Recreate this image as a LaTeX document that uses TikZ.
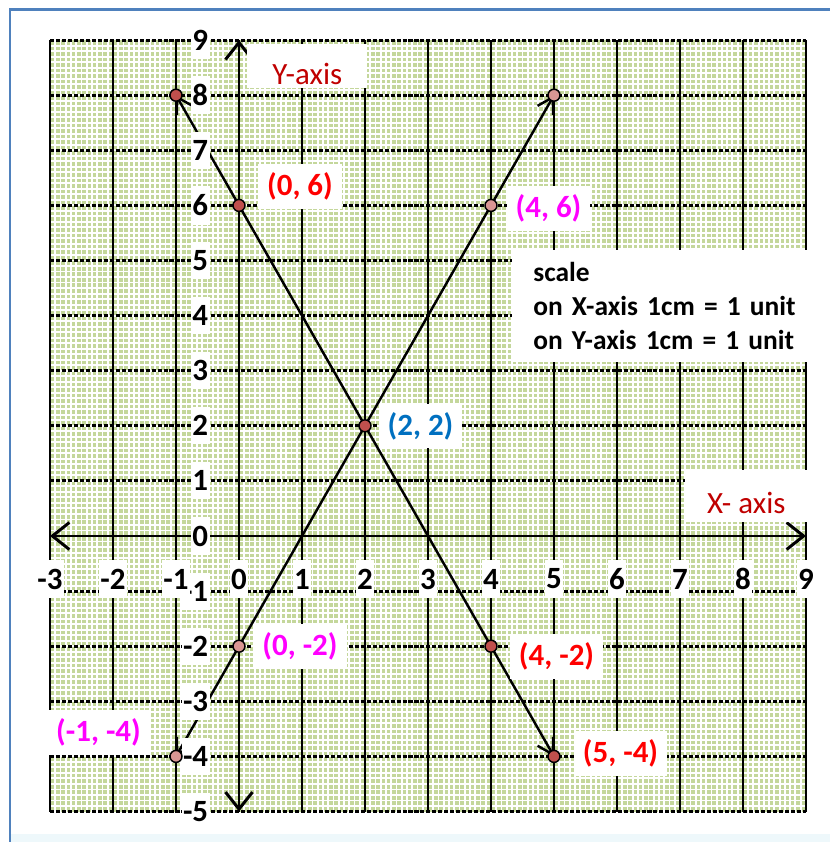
\documentclass[tikz,border=0pt]{standalone}
\usepackage{fontspec}
\setmainfont{Carlito}
\usetikzlibrary{arrows.meta,positioning}
\definecolor{gridgreen}{HTML}{C4D79B}
\definecolor{frameblue}{HTML}{4F81BD}
\definecolor{paleband}{HTML}{EEF8FB}
\definecolor{axisred}{HTML}{C00000}
\definecolor{ptred}{HTML}{FF0000}
\definecolor{ptmagenta}{HTML}{FF00FF}
\definecolor{ptblue}{HTML}{0070C0}
\definecolor{dotdark}{HTML}{C0504D}
\definecolor{dotpink}{HTML}{D99694}

\begin{document}
\begin{tikzpicture}[
  x=1.26cm, y=1.102cm,
  finegrid/.style={
    draw=white,
    line width=1.1pt,
    xstep=0.083333,
    ystep=0.1
  },
  majorcol/.style={
    draw=black,
    line width=1.7pt
  },
  dotrow/.style={
    draw=black,
    line width=1.7pt,
    dash pattern=on 2.3pt off 1.1pt
  },
  axisline/.style={
    line width=1.7pt,
    {Straight Barb[length=3.4mm,width=5.4mm]}-{Straight Barb[length=3.4mm,width=5.4mm]}
  },
  plotline/.style={
    line width=1.4pt,
    {Straight Barb[length=3mm,width=3.6mm]}-{Straight Barb[length=3mm,width=3.6mm]}
  },
  ticklabel/.style={
    fill=white,
    inner xsep=0.03cm,
    inner ysep=0.17cm,
    font=\fontsize{17.6}{21}\selectfont\bfseries
  },
  coordlabel/.style={
    fill=white,
    inner xsep=0.18cm,
    inner ysep=0.17cm,
    font=\fontsize{17.6}{21}\selectfont\bfseries
  },
  axisname/.style={
    fill=white,
    inner ysep=0pt,
    text depth=0pt,
    text=axisred,
    font=\fontsize{17.6}{21}\selectfont
  },
  scalecard/.style={
    fill=white,
    align=left,
    inner xsep=0.42cm,
    text width=5.45cm,
    minimum height=2.24cm,
    font=\fontsize{15.6}{19.3}\selectfont\bfseries
  },
  darkdot/.style={
    circle,
    draw=black,
    line width=0.85pt,
    fill=dotdark,
    minimum size=0.24cm,
    inner sep=0pt
  },
  pinkdot/.style={
    darkdot,
    fill=dotpink
  }
]

  \useasboundingbox (-3.7937,-5.5535) rectangle (9.381,9.7278);

  % ----------------------------------------------------
  % PAGE FRAME
  % ----------------------------------------------------
  \fill[paleband] (-3.635,-5.5535) rectangle (9.381,-5.41);
  \draw[frameblue, line width=1.7pt] (-3.635,-5.5535) |- (9.381,9.564);

  % ----------------------------------------------------
  % GRAPH PAPER
  % ----------------------------------------------------
  \fill[gridgreen] (-3,-5) rectangle (9,9);
  \draw[finegrid] (-3,-5) grid (9,9);
  \foreach \k in {-5,...,-1,1,2,...,9}
    \draw[dotrow] (-3,\k) -- (9,\k);
  \foreach \k in {-3,...,9}
    \draw[majorcol] (\k,-5) -- (\k,9);

  % Axes
  \coordinate (xleft) at (-3,0);
  \coordinate (xright) at (9,0);
  \coordinate (ybottom) at (0,-5);
  \coordinate (ytop) at (0,9);
  \draw[axisline] (xleft) -- (xright);
  \draw[axisline] (ybottom) -- (ytop);

  % ----------------------------------------------------
  % THE TWO LINES
  % ----------------------------------------------------
  % y = 6 - 2x
  \coordinate (pa) at (-1,8);
  \coordinate (pb) at (0,6);
  \coordinate (pc) at (2,2);
  \coordinate (pd) at (4,-2);
  \coordinate (pe) at (5,-4);
  % y = 2x - 2
  \coordinate (qa) at (-1,-4);
  \coordinate (qb) at (0,-2);
  \coordinate (qd) at (4,6);
  \coordinate (qe) at (5,8);

  \draw[plotline] (pa) -- (pe);
  \draw[plotline] (qa) -- (qe);

  % ----------------------------------------------------
  % TICK NUMBERS
  % ----------------------------------------------------
  \foreach \k in {-5,...,9}
    \node[ticklabel, anchor=east] (ytick\k) at (-0.46,\k) {\k};
  \foreach \k in {-3,...,9}
    \node[ticklabel] (xtick\k) at (\k,-0.78) {\k};

  % Axis names
  \node[axisname, anchor=north west, minimum width=2.4cm, minimum height=0.88cm, text height=0.72cm] (yname) at (0.127,8.929) {Y-axis};
  \node[axisname, anchor=north west, minimum width=2.44cm, minimum height=1.04cm, text height=0.68cm] (xname) at (7.079,1.198) {X- axis};

  % Scale note
  \node[scalecard, anchor=north west] (scale) at (4.333,5.19) {scale\\on X-axis 1cm = 1 unit\\on Y-axis 1cm = 1 unit};

  % ----------------------------------------------------
  % POINT LABELS AND DOTS
  % ----------------------------------------------------
  \node[coordlabel, text=ptred] (lpb) at (0.968,6.343) {(0, 6)};
  \node[coordlabel, text=ptmagenta] (lqd) at (4.913,5.944) {(4, 6)};
  \node[coordlabel, text=ptblue] (lpc) at (2.881,1.996) {(2, 2)};
  \node[coordlabel, text=ptmagenta] (lqb) at (0.968,-2.005) {(0, -2)};
  \node[coordlabel, text=ptmagenta] (lqa) at (-2.230,-3.566) {(-1, -4)};
  \node[coordlabel, text=ptred] (lpd) at (5.040,-2.187) {(4, -2)};
  \node[coordlabel, text=ptred] (lpe) at (6.056,-3.947) {(5, -4)};

  \node[darkdot] (dpa) at (pa) {};
  \node[darkdot] (dpb) at (pb) {};
  \node[darkdot] (dpc) at (pc) {};
  \node[darkdot] (dpd) at (pd) {};
  \node[darkdot] (dpe) at (pe) {};
  \node[pinkdot] (dqa) at (qa) {};
  \node[pinkdot] (dqb) at (qb) {};
  \node[pinkdot] (dqd) at (qd) {};
  \node[pinkdot] (dqe) at (qe) {};

\end{tikzpicture}
\end{document}
